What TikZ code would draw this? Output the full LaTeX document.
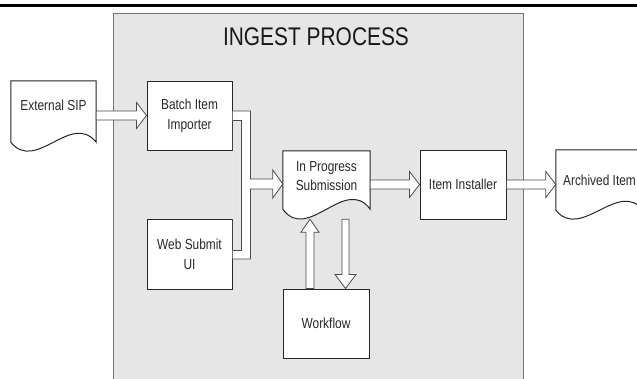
\documentclass[tikz,border=0pt]{standalone}
\usepackage{fontspec}
\setmainfont{Liberation Sans}[FakeStretch=0.82]
\usetikzlibrary{calc}
\definecolor{panelgray}{RGB}{230,230,230}
\definecolor{txt}{RGB}{40,40,40}
\tikzset{
  box/.style={draw=black!85, line width=1pt, fill=white, minimum width=85pt, minimum height=69pt, inner sep=0pt, align=center, font=\fontsize{14.5}{20}\selectfont, text=txt},
  docnode/.style={draw=none, minimum width=85pt, minimum height=61pt, inner sep=0pt},
  docshape/.style={draw=black!85, line width=1pt, fill=white},
  lbl/.style={align=center, font=\fontsize{14.5}{18.5}\selectfont, text=txt, inner sep=0pt},
  barrow/.style={draw=black!70, line width=0.8pt, fill=white, line join=miter},
  pipeline/.style={draw=black!70, line width=0.8pt},
  panel/.style={draw=black!55, line width=1.2pt, fill=panelgray, inner sep=0pt},
}
\newcommand\harrow[2]{%
  \draw[barrow] let \p1=(#1), \p2=(#2) in
    ({\x1},{\y2+4.5pt}) -- ({\x2-10pt},{\y2+4.5pt}) -- ({\x2-10pt},{\y2+13pt}) -- (\p2)
    -- ({\x2-10pt},{\y2-13pt}) -- ({\x2-10pt},{\y2-4.5pt}) -- ({\x1},{\y2-4.5pt}) -- cycle;}
\begin{document}
\begin{tikzpicture}[x=1pt,y=-1pt]
\useasboundingbox (0,0) rectangle (637,378);
% top rule
\coordinate (ruleL) at (0,5);
\coordinate (ruleR) at (637,5);
\draw[line width=3pt] (ruleL) -- (ruleR);
% panel
\node[panel, minimum width=410pt, minimum height=390pt, anchor=north west] (panel) at (113,13) {};
\node[anchor=base, font=\fontsize{25.5}{25.5}\selectfont, text=black!90] (title) at (316,45.5) {INGEST PROCESS};

% External SIP document
\node[docnode] (sip) at (53.5,111.5) {};
\draw[docshape] (sip.north west) -- (sip.north east) -- (sip.south east)
  .. controls ($(sip.south east)+(-25,-31)$) and ($(sip.south west)+(25,31)$) .. (sip.south west) -- cycle;
\node[lbl] (siptext) at ($(sip.center)+(0,-6)$) {External SIP};

% Boxes
\node[box] (bii) at (189.5,115.5) {Batch Item\\Importer};
\node[box, minimum height=70pt] (web) at (189.5,254) {Web Submit\\UI};
\node[box, minimum width=86pt] (inst) at (463,184.5) {Item Installer};
\node[box, minimum width=86pt] (wf) at (326,323.5) {Workflow};

% In Progress Submission document
\node[docnode, minimum width=87pt, minimum height=58pt] (ips) at (326.5,180) {};
\draw[docshape] (ips.north west) -- (ips.north east) -- (ips.south east)
  .. controls ($(ips.south east)+(-25,-34)$) and ($(ips.south west)+(25,34)$) .. (ips.south west) -- cycle;
\node[lbl] (ipstext) at ($(ips.center)+(0,-4)$) {In Progress\\Submission};

% Archived Item document
\node[docnode, minimum width=87pt, minimum height=60pt] (arch) at (599.5,180) {};
\draw[docshape] (arch.north west) -- (arch.north east) -- (arch.south east)
  .. controls ($(arch.south east)+(-25,-31)$) and ($(arch.south west)+(25,31)$) .. (arch.south west) -- cycle;
\node[lbl] (archtext) at ($(arch.center)+(0,0)$) {Archived Item};

% horizontal block arrows
\harrow{sip.east}{bii.west}
\harrow{ips.east}{inst.west}
\coordinate (archin) at (arch.west |- inst.east);
\harrow{inst.east}{archin}

% merging pipe arrow
\coordinate (tip) at ($(ips.west)+(0,4)$);
\coordinate (bo) at ($(bii.east)+(0,-4.5)$);
\coordinate (bi) at ($(bii.east)+(0,5)$);
\coordinate (wi) at ($(web.east)+(0,-4)$);
\coordinate (wo) at ($(web.east)+(0,5)$);
\fill[white, even odd rule] (bo) -- ++(18,0) |- ($(tip)+(-10,-5)$) -- ++(0,-9) -- (tip)
   -- ($(tip)+(-10,14)$) -- ++(0,-9) -| ($(wo)+(18,0)$) -- (wo) -- cycle
   (bi) -- ++(9,0) |- (wi) -- cycle;
\draw[pipeline, line join=miter] (bo) -- ++(18,0) |- ($(tip)+(-10,-5)$) -- ++(0,-9) -- (tip)
   -- ($(tip)+(-10,14)$) -- ++(0,-9) -| ($(wo)+(18,0)$) -- (wo);
\draw[pipeline] (bi) -- ++(9,0) |- (wi);

% workflow -> in progress (up)
\coordinate (uptip) at ($(ips.south)+(-16.5,10)$);
\coordinate (upbase) at (uptip |- wf.north);
\draw[barrow] ($(upbase)+(-4,0)$) -- ($(uptip)+(-4,13)$) -- ($(uptip)+(-9,13)$) -- (uptip)
  -- ($(uptip)+(9,13)$) -- ($(uptip)+(4,13)$) -- ($(upbase)+(4,0)$) -- cycle;

% in progress -> workflow (down)
\coordinate (dntip) at ($(wf.north)+(19.5,0)$);
\coordinate (dntop) at (dntip |- uptip);
\draw[barrow] ($(dntop)+(-3.5,0)$) -- ($(dntip)+(-3.5,-14)$) -- ($(dntip)+(-10.5,-14)$) -- (dntip)
  -- ($(dntip)+(10.5,-14)$) -- ($(dntip)+(3.5,-14)$) -- ($(dntop)+(3.5,0)$) -- cycle;
\end{tikzpicture}
\end{document}
